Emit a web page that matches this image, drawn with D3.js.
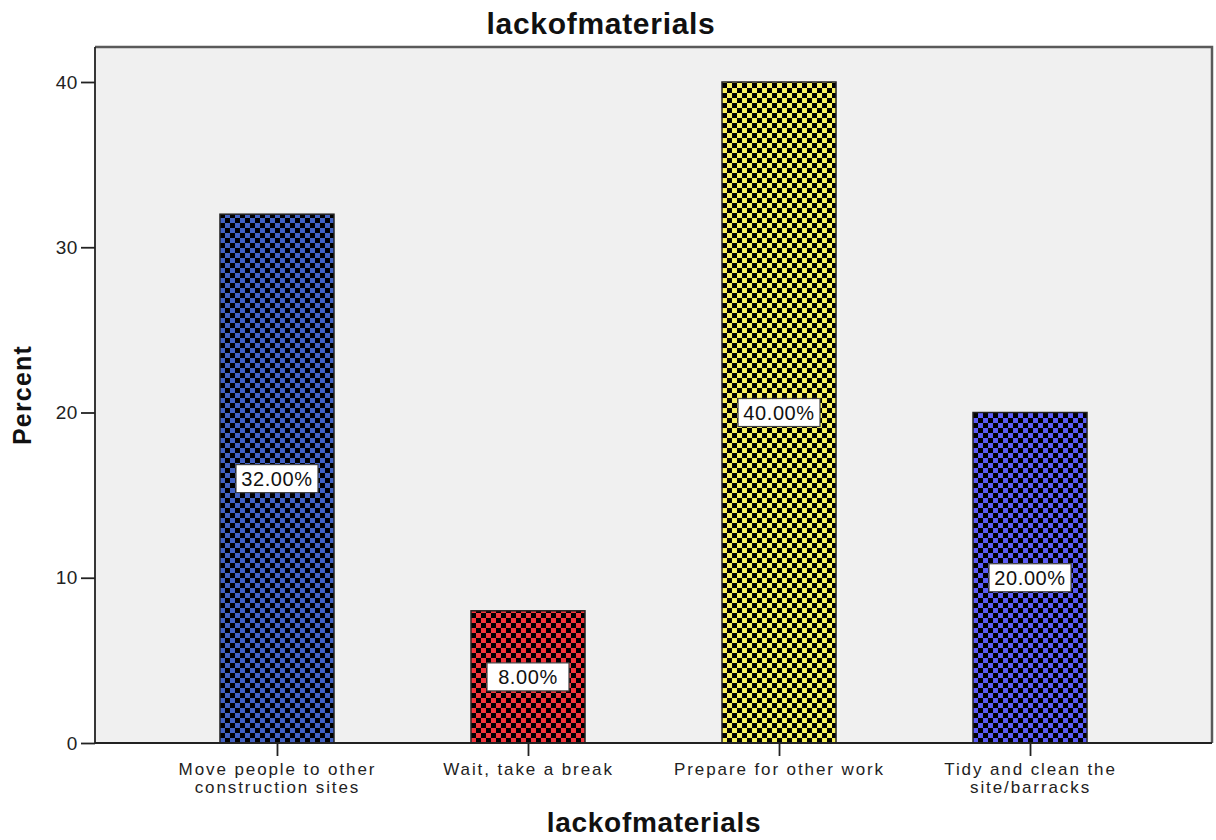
<!DOCTYPE html>
<html>
<head>
<meta charset="utf-8">
<script src="https://cdn.jsdelivr.net/npm/d3@7"></script>
<style>
  html, body { margin: 0; padding: 0; background: #fff; }
  svg { display: block; font-family: Arial, "Liberation Sans", sans-serif; }
</style>
</head>
<body>
<svg id="chart" width="1216" height="840"></svg>
<script>
// Responses to "lackofmaterials"
const categories = [
  ["Move people to other", "construction sites"],
  ["Wait, take a break"],
  ["Prepare for other work"],
  ["Tidy and clean the", "site/barracks"]
];
const percents = [32, 8, 40, 20];
const barColors = ["#4262c4", "#f2343c", "#f7f060", "#5b5bf7"];
const yTicks = [0, 10, 20, 30, 40];

const svg = d3.select("#chart");
const plotLeft = 95, plotRight = 1212, plotTop = 47, plotBottom = 743;
const font = "Arial, 'Liberation Sans', sans-serif";

const x = d3.scalePoint()
  .domain(d3.range(categories.length))
  .range([plotLeft, plotRight])
  .padding(0.725);
const y = d3.scaleLinear().domain([0, 40]).range([plotBottom, 82]);
const barW = 114;
const cell = 5;

// checkerboard fills, one per bar colour
const defs = svg.append("defs");
barColors.forEach((c, i) => {
  const p = defs.append("pattern")
    .attr("id", "chk" + i)
    .attr("patternUnits", "userSpaceOnUse")
    .attr("width", cell * 2).attr("height", cell * 2)
    .attr("x", x(i) - barW / 2).attr("y", plotBottom);
  p.append("rect").attr("width", cell * 2).attr("height", cell * 2).attr("fill", c);
  p.append("rect").attr("width", cell).attr("height", cell).attr("fill", "#000");
  p.append("rect").attr("x", cell).attr("y", cell).attr("width", cell).attr("height", cell).attr("fill", "#000");
});

// plot background and frame
svg.append("rect")
  .attr("x", plotLeft).attr("y", plotTop)
  .attr("width", plotRight - plotLeft).attr("height", plotBottom - plotTop)
  .attr("fill", "#f0f0f0");
svg.append("path")
  .attr("d", `M${plotLeft},${plotTop}H${plotRight}V${plotBottom}`)
  .attr("fill", "none").attr("stroke", "#5a5a5a").attr("stroke-width", 2.5);

// bars
svg.selectAll("rect.bar")
  .data(percents)
  .join("rect")
  .attr("class", "bar")
  .attr("x", (d, i) => x(i) - barW / 2)
  .attr("y", d => y(d))
  .attr("width", barW)
  .attr("height", d => y(0) - y(d))
  .attr("fill", (d, i) => `url(#chk${i})`)
  .attr("stroke", "#222")
  .attr("stroke-width", 1.5);

// y axis
const yAxis = svg.append("g")
  .attr("transform", `translate(${plotLeft},0)`)
  .call(d3.axisLeft(y).tickValues(yTicks).tickSize(14).tickPadding(3).tickFormat(d3.format("d")));
yAxis.select(".domain").attr("stroke", "#222").attr("stroke-width", 1.8).attr("d", `M0,${plotTop}V${plotBottom}`);
yAxis.selectAll(".tick line").attr("stroke", "#222").attr("stroke-width", 1.8);
yAxis.selectAll(".tick text").attr("font-size", 19).attr("fill", "#222")
  .attr("letter-spacing", 0.6)
  .attr("font-family", font);

// x axis
const xAxis = svg.append("g")
  .attr("transform", `translate(0,${plotBottom})`)
  .call(d3.axisBottom(x).tickSize(13).tickFormat(""));
xAxis.select(".domain").attr("stroke", "#222").attr("stroke-width", 1.8).attr("d", `M${plotLeft},0H${plotRight}`);
xAxis.selectAll(".tick line").attr("stroke", "#222").attr("stroke-width", 1.8);
xAxis.selectAll(".tick").each(function (d) {
  const t = d3.select(this).append("text")
    .attr("text-anchor", "middle")
    .attr("fill", "#222")
    .attr("font-size", 17)
    .attr("letter-spacing", 1.9)
    .attr("font-family", font);
  categories[d].forEach((line, k) => {
    t.append("tspan").attr("x", 0).attr("y", 32 + k * 18).text(line);
  });
});

// value labels in white boxes at mid-bar
const labels = svg.selectAll("g.vlabel")
  .data(percents)
  .join("g")
  .attr("class", "vlabel")
  .attr("transform", (d, i) => `translate(${x(i)},${y(d / 2)})`);
labels.append("rect")
  .attr("x", -41).attr("y", -14).attr("width", 82).attr("height", 28)
  .attr("fill", "#fff").attr("stroke", "#444").attr("stroke-width", 1.2);
labels.append("text")
  .attr("text-anchor", "middle").attr("dy", "0.36em")
  .attr("font-size", 20).attr("letter-spacing", 0.6).attr("fill", "#111")
  .attr("font-family", font)
  .text(d => d3.format(".2f")(d) + "%");

// titles
svg.append("text")
  .attr("x", 601).attr("y", 34)
  .attr("text-anchor", "middle").attr("font-weight", "bold").attr("font-size", 30)
  .attr("letter-spacing", 0.7)
  .attr("fill", "#111").text("lackofmaterials");
svg.append("text")
  .attr("x", 654).attr("y", 832)
  .attr("text-anchor", "middle").attr("font-weight", "bold").attr("font-size", 28)
  .attr("letter-spacing", 0.7)
  .attr("fill", "#111").text("lackofmaterials");
svg.append("text")
  .attr("transform", "translate(31,395) rotate(-90)")
  .attr("text-anchor", "middle").attr("font-weight", "bold").attr("font-size", 25)
  .attr("letter-spacing", 1.2)
  .attr("fill", "#111").text("Percent");
</script>
</body>
</html>
